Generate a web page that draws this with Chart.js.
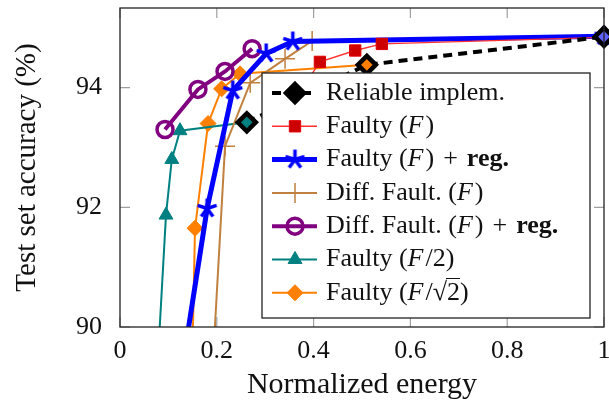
<!DOCTYPE html>
<html>
<head>
<meta charset="utf-8">
<script src="https://cdn.jsdelivr.net/npm/chart.js@4.4.1/dist/chart.umd.min.js"></script>
<style>
  html, body { margin: 0; padding: 0; background: #fff; }
</style>
</head>
<body>
<canvas id="chart" width="609" height="403"></canvas>
<script>
// Datos (energía normalizada, precisión en %)
const energyReliable = [0.262, 0.51, 1.0];
const accReliable = [93.42, 94.38, 94.85];

const energyFaulty = [0.32, 0.345, 0.37, 0.413, 0.486, 0.541, 1.0];
const accFaulty = [90.6, 92.9, 93.9, 94.43, 94.62, 94.73, 94.84];

const energyFaultyReg = [0.136, 0.18, 0.233, 0.302, 0.357, 1.0];
const accFaultyReg = [89.7, 91.98, 93.95, 94.57, 94.77, 94.86];

const energyDiff = [0.194, 0.217, 0.269, 0.341, 0.397, 1.0];
const accDiff = [89.7, 93.02, 94.08, 94.48, 94.78, 94.84];

const energyDiffReg = [0.093, 0.161, 0.217, 0.273];
const accDiffReg = [93.3, 93.97, 94.27, 94.65];

const energyHalf = [0.08, 0.095, 0.107, 0.124, 0.262];
const accHalf = [89.7, 91.87, 92.8, 93.28, 93.42];

const energySqrt = [0.15, 0.155, 0.182, 0.21, 0.248, 0.51];
const accSqrt = [89.7, 91.65, 93.4, 93.98, 94.23, 94.38];

const xTicks = [0, 0.2, 0.4, 0.6, 0.8, 1];
const yTicks = [90, 92, 94];

const FONT = '"Liberation Serif", "DejaVu Serif", serif';

function toPoints(xs, ys) {
    return xs.map((x, i) => ({ x: x, y: ys[i] }));
}

// Estrella de 5 brazos (como en pgfplots)
function makeStar(color, r, lw) {
    const c = document.createElement('canvas');
    const s = Math.ceil(r * 2 + lw * 2);
    c.width = s; c.height = s;
    const g = c.getContext('2d');
    g.strokeStyle = color;
    g.lineWidth = lw;
    for (let k = 0; k < 5; k++) {
        const a = -Math.PI / 2 + k * 2 * Math.PI / 5;
        g.beginPath();
        g.moveTo(s / 2, s / 2);
        g.lineTo(s / 2 + r * Math.cos(a), s / 2 + r * Math.sin(a));
        g.stroke();
    }
    return c;
}
const starBlue = makeStar('#0000ff', 10, 3.5);

const clipRight = { left: 0, top: 0, right: 14, bottom: 0 };

const datasets = [
    {
        label: 'Reliable implem.',
        data: toPoints(energyReliable, accReliable),
        borderColor: '#000',
        borderWidth: 4,
        borderDash: [9, 6],
        pointStyle: 'rectRot',
        pointRadius: 9,
        pointBorderWidth: 4.5,
        pointBorderColor: '#000',
        pointBackgroundColor: ['#008080', '#ff8000', '#6060ff'],
        clip: clipRight
    },
    {
        label: 'Faulty (F)',
        data: toPoints(energyFaulty, accFaulty),
        borderColor: '#ff3030',
        borderWidth: 1.4,
        pointStyle: 'rect',
        pointRadius: 8,
        pointBorderWidth: 1,
        pointBorderColor: '#e00000',
        pointBackgroundColor: '#cc0000',
        clip: clipRight
    },
    {
        label: 'Faulty (F) + reg.',
        data: toPoints(energyFaultyReg, accFaultyReg),
        borderColor: '#0000ff',
        borderWidth: 5,
        pointStyle: starBlue,
        pointRadius: 10,
        clip: clipRight
    },
    {
        label: 'Diff. Fault. (F)',
        data: toPoints(energyDiff, accDiff),
        borderColor: '#c08040',
        borderWidth: 2,
        pointStyle: 'cross',
        pointRadius: 10,
        pointBorderWidth: 1.5,
        pointBorderColor: '#c08040',
        clip: clipRight
    },
    {
        label: 'Diff. Fault. (F) + reg.',
        data: toPoints(energyDiffReg, accDiffReg),
        borderColor: '#800080',
        borderWidth: 4,
        pointStyle: 'circle',
        pointRadius: 8,
        pointBorderWidth: 3.5,
        pointBorderColor: '#800080',
        pointBackgroundColor: 'rgba(0,0,0,0)',
        clip: clipRight
    },
    {
        label: 'Faulty (F/2)',
        data: toPoints(energyHalf, accHalf),
        borderColor: '#008080',
        borderWidth: 2,
        pointStyle: 'triangle',
        pointRadius: 8,
        pointBorderWidth: 1,
        pointBorderColor: '#008080',
        pointBackgroundColor: '#008080',
        clip: clipRight
    },
    {
        label: 'Faulty (F/sqrt2)',
        data: toPoints(energySqrt, accSqrt),
        borderColor: '#ff8000',
        borderWidth: 2,
        pointStyle: 'rectRot',
        pointRadius: 8,
        pointBorderWidth: 1,
        pointBorderColor: '#ff8000',
        pointBackgroundColor: '#ff8000',
        clip: clipRight
    }
];

// Textos de la leyenda: n = normal, i = cursiva, b = negrita, s = raíz, m = operador
const legendTexts = [
    [['Reliable implem.', 'n']],
    [['Faulty (', 'n'], ['F', 'i'], [')', 'n']],
    [['Faulty (', 'n'], ['F', 'i'], [')', 'n'], ['+', 'm'], ['reg.', 'b']],
    [['Diff. Fault. (', 'n'], ['F', 'i'], [')', 'n']],
    [['Diff. Fault. (', 'n'], ['F', 'i'], [')', 'n'], ['+', 'm'], ['reg.', 'b']],
    [['Faulty (', 'n'], ['F', 'i'], ['/2)', 'n']],
    [['Faulty (', 'n'], ['F', 'i'], ['/', 'n'], ['2', 's'], [')', 'n']]
];

function drawMarker(ctx, ds, x, y) {
    const st = ds.pointStyle;
    ctx.save();
    if (typeof st !== 'string') {
        ctx.drawImage(st, x - st.width / 2, y - st.height / 2);
        ctx.restore();
        return;
    }
    const r = ds.pointRadius;
    ctx.lineWidth = ds.pointBorderWidth;
    ctx.strokeStyle = ds.pointBorderColor;
    ctx.fillStyle = Array.isArray(ds.pointBackgroundColor) ? '#000' : (ds.pointBackgroundColor || 'transparent');
    ctx.beginPath();
    if (st === 'rect') {
        const s = r * Math.SQRT1_2;
        ctx.rect(x - s, y - s, 2 * s, 2 * s);
    } else if (st === 'rectRot') {
        ctx.moveTo(x, y - r); ctx.lineTo(x + r, y); ctx.lineTo(x, y + r); ctx.lineTo(x - r, y); ctx.closePath();
    } else if (st === 'circle') {
        ctx.arc(x, y, r, 0, Math.PI * 2);
    } else if (st === 'triangle') {
        ctx.moveTo(x, y - r); ctx.lineTo(x + r * 0.866, y + r / 2); ctx.lineTo(x - r * 0.866, y + r / 2); ctx.closePath();
    } else if (st === 'cross') {
        ctx.moveTo(x, y - r); ctx.lineTo(x, y + r); ctx.moveTo(x - r, y); ctx.lineTo(x + r, y);
    }
    if (st !== 'cross') ctx.fill();
    ctx.stroke();
    ctx.restore();
}

const framePlugin = {
    id: 'frame',
    afterDraw(chart) {
        const ctx = chart.ctx;
        const a = chart.chartArea;
        const xs = chart.scales.x, ys = chart.scales.y;
        ctx.save();
        // marcas hacia dentro
        ctx.strokeStyle = '#a0a0a0';
        ctx.lineWidth = 1.2;
        const tl = 10;
        xTicks.forEach(v => {
            const px = xs.getPixelForValue(v);
            ctx.beginPath();
            ctx.moveTo(px, a.bottom); ctx.lineTo(px, a.bottom - tl);
            ctx.moveTo(px, a.top); ctx.lineTo(px, a.top + tl);
            ctx.stroke();
        });
        yTicks.forEach(v => {
            const py = ys.getPixelForValue(v);
            ctx.beginPath();
            ctx.moveTo(a.left, py); ctx.lineTo(a.left + tl, py);
            ctx.moveTo(a.right, py); ctx.lineTo(a.right - tl, py);
            ctx.stroke();
        });
        // marco
        ctx.strokeStyle = '#222';
        ctx.lineWidth = 1.3;
        ctx.strokeRect(a.left, a.top, a.right - a.left, a.bottom - a.top);

        // leyenda
        const lx = a.left + 142, ly = a.top + 65, lw = 328, lh = 245;
        ctx.fillStyle = '#fff';
        ctx.fillRect(lx, ly, lw, lh);
        ctx.strokeStyle = '#222';
        ctx.lineWidth = 1.3;
        ctx.strokeRect(lx, ly, lw, lh);
        const fs = 26;
        chart.data.datasets.forEach((ds, i) => {
            const cy = ly + 20 + i * 33.3;
            const x0 = lx + 10, x1 = lx + 55, cx = lx + 33;
            ctx.save();
            ctx.strokeStyle = ds.borderColor;
            ctx.lineWidth = ds.borderWidth;
            if (ds.borderDash) ctx.setLineDash(ds.borderDash);
            ctx.beginPath();
            ctx.moveTo(x0, cy); ctx.lineTo(x1, cy);
            ctx.stroke();
            ctx.restore();
            drawMarker(ctx, ds, cx, cy);

            let tx = lx + 64;
            ctx.fillStyle = '#111';
            ctx.textBaseline = 'middle';
            legendTexts[i].forEach(seg => {
                const [txt, st] = seg;
                let f = fs + 'px ' + FONT;
                if (st === 'i') f = 'italic ' + f;
                if (st === 'b') f = 'bold ' + f;
                ctx.font = f;
                if (st === 's') {
                    const wr = ctx.measureText('√').width;
                    ctx.fillText('√', tx, cy);
                    ctx.fillText(txt, tx + wr, cy);
                    const w2 = ctx.measureText(txt).width;
                    ctx.save();
                    ctx.strokeStyle = '#111';
                    ctx.lineWidth = 1;
                    ctx.beginPath();
                    ctx.moveTo(tx + wr - 1, cy - fs * 0.55);
                    ctx.lineTo(tx + wr + w2, cy - fs * 0.55);
                    ctx.stroke();
                    ctx.restore();
                    tx += wr + w2;
                } else if (st === 'm') {
                    tx += 9;
                    ctx.fillText(txt, tx, cy);
                    tx += ctx.measureText(txt).width + 9;
                } else {
                    ctx.fillText(txt, tx, cy);
                    tx += ctx.measureText(txt).width + (st === 'i' ? 2 : 0);
                }
            });
        });
        ctx.restore();
    }
};

const ctx = document.getElementById('chart').getContext('2d');
const chart = new Chart(ctx, {
    type: 'line',
    data: { datasets: datasets },
    options: {
        responsive: false,
        animation: false,
        events: [],
        layout: { autoPadding: false, padding: { top: 8, right: 5, left: 0, bottom: 0 } },
        plugins: { legend: { display: false }, tooltip: { enabled: false } },
        elements: { line: { tension: 0 } },
        scales: {
            x: {
                type: 'linear',
                min: 0,
                max: 1,
                grid: { display: false },
                border: { display: false },
                ticks: {
                    stepSize: 0.2,
                    includeBounds: false,
                    color: '#111',
                    padding: 1,
                    maxRotation: 0,
                    font: { family: FONT, size: 26 },
                    callback: v => String(Math.round(v * 10) / 10)
                },
                title: {
                    display: true,
                    text: 'Normalized energy',
                    color: '#111',
                    font: { family: FONT, size: 30 },
                    padding: { top: 0, bottom: 0 }
                },
                afterFit(scale) {
                    scale.height = 76;
                    scale.paddingLeft = 0;
                    scale.paddingRight = 0;
                }
            },
            y: {
                type: 'linear',
                min: 90,
                max: 95.33,
                grid: { display: false },
                border: { display: false },
                ticks: {
                    stepSize: 2,
                    includeBounds: false,
                    color: '#111',
                    padding: 10,
                    font: { family: FONT, size: 26, lineHeight: 0.5 }
                },
                title: {
                    display: true,
                    text: 'Test set accuracy (%)',
                    color: '#111',
                    font: { family: FONT, size: 29 },
                    padding: { top: 10, bottom: 0 }
                },
                afterFit(scale) {
                    scale.width = 120;
                    scale.paddingTop = 0;
                    scale.paddingBottom = 0;
                }
            }
        }
    },
    plugins: [framePlugin]
});
</script>
</body>
</html>
